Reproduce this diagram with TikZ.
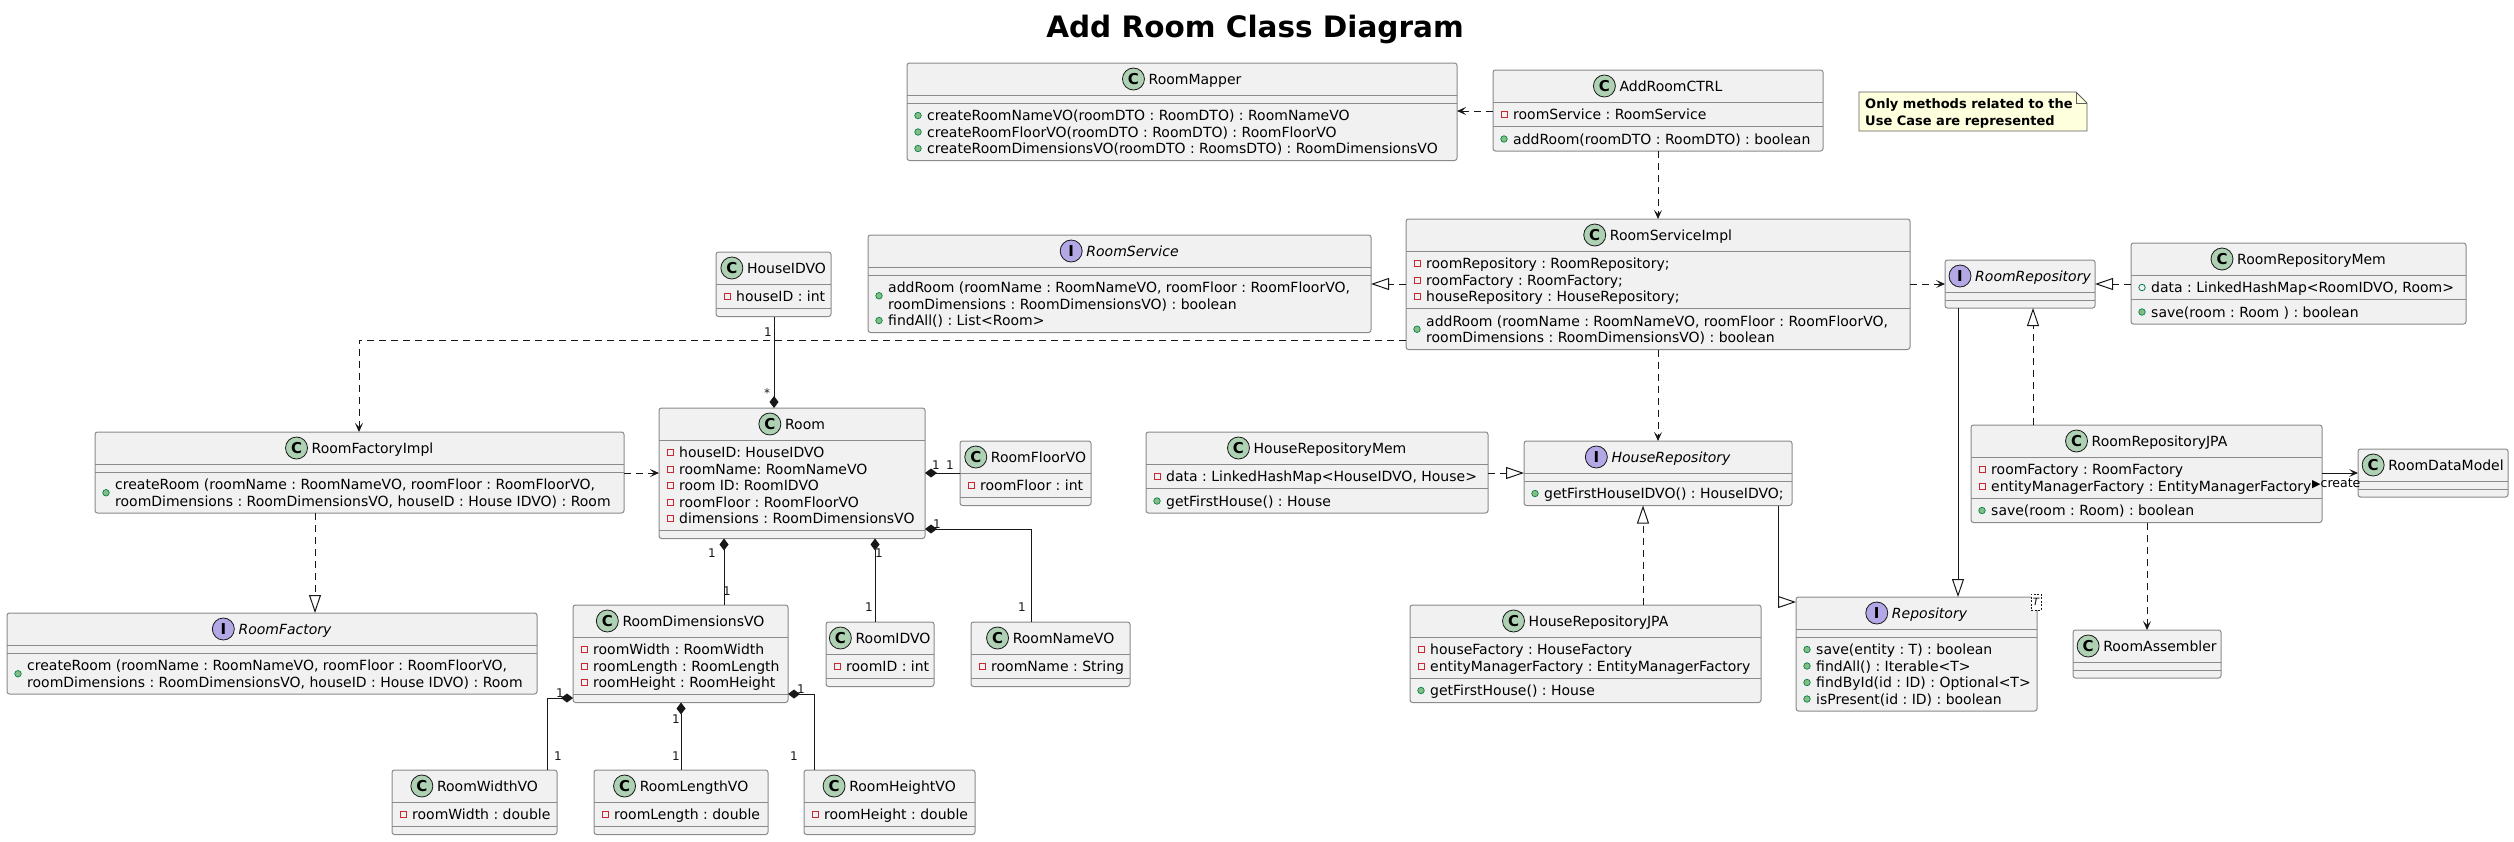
\documentclass[tikz,border=0pt]{standalone}
\usepackage{fontspec}
\setmainfont{DejaVu Sans}
\usetikzlibrary{arrows.meta,calc}
\frenchspacing
\definecolor{boxfill}{HTML}{F1F1F1}
\definecolor{boxline}{HTML}{8A8A8A}
\definecolor{ink}{HTML}{181818}
\definecolor{cfill}{HTML}{ADD1B2}
\definecolor{ifill}{HTML}{B4A7E5}
\definecolor{privred}{HTML}{C82930}
\definecolor{pubgreen}{HTML}{038048}
\definecolor{pubfill}{HTML}{84BE84}
\definecolor{notefill}{HTML}{FEFFDD}
\tikzset{
  umlbox/.style={draw=boxline, fill=boxfill, line width=1pt, rounded corners=2.5pt, inner sep=0pt, outer sep=0pt, anchor=north west},
  sepline/.style={draw=boxline, line width=1pt},
  kCcirc/.style={circle, draw=ink, line width=0.8pt, fill=cfill, minimum size=22pt, inner sep=0pt, font=\fontsize{15}{15}\selectfont\bfseries},
  kIcirc/.style={circle, draw=ink, line width=0.8pt, fill=ifill, minimum size=22pt, inner sep=0pt, font=\fontsize{15}{15}\selectfont\bfseries},
  kCname/.style={font=\fontsize{14}{16.5}\selectfont, inner sep=0pt, anchor=base},
  kIname/.style={font=\fontsize{14}{16.5}\selectfont\itshape, inner sep=0pt, anchor=base},
  memtext/.style={font=\fontsize{14}{16.5}\selectfont, inner sep=0pt, anchor=base west},
  icpriv/.style={rectangle, draw=privred, line width=0.8pt, minimum size=6pt, inner sep=0pt},
  icpub/.style={circle, draw=pubgreen, fill=pubfill, line width=0.7pt, minimum size=6.5pt, inner sep=0pt},
  icpubf/.style={circle, draw=pubgreen, line width=0.8pt, minimum size=6.5pt, inner sep=0pt},
  conn/.style={draw=ink, line width=1pt},
  dep/.style={conn, dash pattern=on 7pt off 5pt, -{Stealth[length=9pt,width=8pt,inset=4pt]}},
  assoc/.style={conn, -{Stealth[length=9pt,width=8pt,inset=4pt]}},
  real/.style={conn, dash pattern=on 7pt off 5pt, -{Triangle[open,length=18pt,width=12pt]}},
  gen/.style={conn, -{Triangle[open,length=18pt,width=12pt]}},
  comp/.style={conn, {Diamond[length=12pt,width=9pt]}-},
  mult/.style={font=\fontsize{12}{12}\selectfont, inner sep=0pt, text=ink},
}
\newcommand\umlclass[8]{%
  \pgfmathsetmacro\uA{#4+32}%
  \pgfmathsetmacro\uB{\uA+8+16.5*#5}%
  \pgfmathsetmacro\uBot{\uB+8+16.5*#6}%
  \pgfmathsetmacro\uW{#3-#2}%
  \pgfmathsetmacro\uH{\uBot-#4}%
  \pgfmathsetmacro\uCx{(#2+#3)/2+13}%
  \pgfmathsetmacro\uHy{#4+16}%
  \pgfmathsetmacro\uBy{#4+21}%
  \node[umlbox, minimum width=\uW pt, minimum height=\uH pt] (#1) at (#2,#4) {};
  \draw[sepline] (#2,\uA) -- (#3,\uA) (#2,\uB) -- (#3,\uB);
  \coordinate (#1-a) at (#2,\uA);
  \coordinate (#1-m) at (#2,\uB);
  \node[k#7name] (#1-t) at (\uCx,\uBy) {#8};
  \node[k#7circ, xshift=-15pt] (#1-c) at (#1-t.west |- #2,\uHy) {#7};
}
\newcommand\mem[5]{%
  \node[ic#4] at ($(#1-#2)+(11,{12.5+16.5*#3})$) {};
  \node[memtext] at ($(#1-#2)+(20,{17.5+16.5*#3})$) {#5};
}
\newcommand\memII[6]{%
  \node[ic#4] at ($(#1-#2)+(11,{20.75+16.5*#3})$) {};
  \node[memtext] at ($(#1-#2)+(20,{17.5+16.5*#3})$) {#5};
  \node[memtext] at ($(#1-#2)+(20,{34+16.5*#3})$) {#6};
}
\begin{document}
\begin{tikzpicture}[x=1pt,y=-1pt]
\useasboundingbox (0,0) rectangle (2514,841);
\node[font=\fontsize{29.5}{30}\selectfont\bfseries, anchor=base, inner sep=0pt] (title) at (1255,37) {Add Room Class Diagram};

% note
\draw[draw=ink!70, fill=notefill, line width=0.8pt] (1859,92) -- (2076,92) -- (2087,103) -- (2087,131) -- (1859,131) -- cycle;
\draw[draw=ink!70, line width=0.8pt] (2076,92) -- (2076,103) -- (2087,103);
\node[font=\fontsize{13}{16.5}\selectfont\bfseries, anchor=base west, inner sep=0pt] (note1) at (1865,108) {Only methods related to the};
\node[font=\fontsize{13}{16.5}\selectfont\bfseries, anchor=base west, inner sep=0pt] (note2) at (1865,125) {Use Case are represented};

% classes
\umlclass{mapper}{907}{1457}{63}{0}{3}{C}{RoomMapper}
\mem{mapper}{m}{0}{pub}{createRoomNameVO(roomDTO : RoomDTO) : RoomNameVO}
\mem{mapper}{m}{1}{pub}{createRoomFloorVO(roomDTO : RoomDTO) : RoomFloorVO}
\mem{mapper}{m}{2}{pub}{createRoomDimensionsVO(roomDTO : RoomsDTO) : RoomDimensionsVO}

\umlclass{ctrl}{1493}{1823}{70}{1}{1}{C}{AddRoomCTRL}
\mem{ctrl}{a}{0}{priv}{roomService : RoomService}
\mem{ctrl}{m}{0}{pub}{addRoom(roomDTO : RoomDTO) : boolean}

\umlclass{rsi}{1406}{1910}{219}{3}{2}{C}{RoomServiceImpl}
\mem{rsi}{a}{0}{priv}{roomRepository : RoomRepository;}
\mem{rsi}{a}{1}{priv}{roomFactory : RoomFactory;}
\mem{rsi}{a}{2}{priv}{houseRepository : HouseRepository;}
\memII{rsi}{m}{0}{pub}{addRoom (roomName : RoomNameVO, roomFloor : RoomFloorVO,}{roomDimensions : RoomDimensionsVO) : boolean}

\umlclass{rsvc}{868}{1371}{235}{0}{3}{I}{RoomService}
\memII{rsvc}{m}{0}{pub}{addRoom (roomName : RoomNameVO, roomFloor : RoomFloorVO,}{roomDimensions : RoomDimensionsVO) : boolean}
\mem{rsvc}{m}{2}{pub}{findAll() : List<Room>}

\umlclass{rrepo}{1945}{2095}{260}{0}{0}{I}{RoomRepository}

\umlclass{rrmem}{2131}{2466}{243}{1}{1}{C}{RoomRepositoryMem}
\mem{rrmem}{a}{0}{pubf}{data : LinkedHashMap<RoomIDVO, Room>}
\mem{rrmem}{m}{0}{pub}{save(room : Room ) : boolean}

\umlclass{hidvo}{716}{831}{252}{1}{0}{C}{HouseIDVO}
\mem{hidvo}{a}{0}{priv}{houseID : int}

\umlclass{rfimpl}{95}{624}{432}{0}{2}{C}{RoomFactoryImpl}
\memII{rfimpl}{m}{0}{pub}{createRoom (roomName : RoomNameVO, roomFloor : RoomFloorVO,}{roomDimensions : RoomDimensionsVO, houseID : House IDVO) : Room}

\umlclass{room}{659}{925}{408}{5}{0}{C}{Room}
\mem{room}{a}{0}{priv}{houseID: HouseIDVO}
\mem{room}{a}{1}{priv}{roomName: RoomNameVO}
\mem{room}{a}{2}{priv}{room ID: RoomIDVO}
\mem{room}{a}{3}{priv}{roomFloor : RoomFloorVO}
\mem{room}{a}{4}{priv}{dimensions : RoomDimensionsVO}

\umlclass{rfloor}{960}{1091}{441}{1}{0}{C}{RoomFloorVO}
\mem{rfloor}{a}{0}{priv}{roomFloor : int}

\umlclass{hrmem}{1146}{1488}{432}{1}{1}{C}{HouseRepositoryMem}
\mem{hrmem}{a}{0}{priv}{data : LinkedHashMap<HouseIDVO, House>}
\mem{hrmem}{m}{0}{pub}{getFirstHouse() : House}

\umlclass{hrepo}{1524}{1792}{441}{0}{1}{I}{HouseRepository}
\mem{hrepo}{m}{0}{pub}{getFirstHouseIDVO() : HouseIDVO;}

\umlclass{rrjpa}{1971}{2322}{425}{2}{1}{C}{RoomRepositoryJPA}
\mem{rrjpa}{a}{0}{priv}{roomFactory : RoomFactory}
\mem{rrjpa}{a}{1}{priv}{entityManagerFactory : EntityManagerFactory}
\mem{rrjpa}{m}{0}{pub}{save(room : Room) : boolean}

\umlclass{rdm}{2358}{2508}{449}{0}{0}{C}{RoomDataModel}

\umlclass{rfact}{7}{537}{613}{0}{2}{I}{RoomFactory}
\memII{rfact}{m}{0}{pub}{createRoom (roomName : RoomNameVO, roomFloor : RoomFloorVO,}{roomDimensions : RoomDimensionsVO, houseID : House IDVO) : Room}

\umlclass{rdim}{573}{788}{605}{3}{0}{C}{RoomDimensionsVO}
\mem{rdim}{a}{0}{priv}{roomWidth : RoomWidth}
\mem{rdim}{a}{1}{priv}{roomLength : RoomLength}
\mem{rdim}{a}{2}{priv}{roomHeight : RoomHeight}

\umlclass{ridvo}{826}{934}{622}{1}{0}{C}{RoomIDVO}
\mem{ridvo}{a}{0}{priv}{roomID : int}

\umlclass{rname}{971}{1130}{622}{1}{0}{C}{RoomNameVO}
\mem{rname}{a}{0}{priv}{roomName : String}

\umlclass{hrjpa}{1410}{1761}{605}{2}{1}{C}{HouseRepositoryJPA}
\mem{hrjpa}{a}{0}{priv}{houseFactory : HouseFactory}
\mem{hrjpa}{a}{1}{priv}{entityManagerFactory : EntityManagerFactory}
\mem{hrjpa}{m}{0}{pub}{getFirstHouse() : House}

\umlclass{repo}{1796}{2037}{597}{0}{4}{I}{Repository}
\mem{repo}{m}{0}{pub}{save(entity : T) : boolean}
\mem{repo}{m}{1}{pub}{findAll() : Iterable<T>}
\mem{repo}{m}{2}{pub}{findById(id : ID) : Optional<T>}
\mem{repo}{m}{3}{pub}{isPresent(id : ID) : boolean}
\node[draw=ink, dash pattern=on 2pt off 1.5pt, fill=white, line width=0.7pt, font=\fontsize{10}{10}\selectfont\itshape, minimum width=10pt, minimum height=16pt, inner sep=0pt] (tmpl) at (2036,602) {T};

\umlclass{rasm}{2073}{2221}{630}{0}{0}{C}{RoomAssembler}

\umlclass{rwidth}{392}{557}{770}{1}{0}{C}{RoomWidthVO}
\mem{rwidth}{a}{0}{priv}{roomWidth : double}
\umlclass{rlength}{594}{768}{770}{1}{0}{C}{RoomLengthVO}
\mem{rlength}{a}{0}{priv}{roomLength : double}
\umlclass{rheight}{804}{975}{770}{1}{0}{C}{RoomHeightVO}
\mem{rheight}{a}{0}{priv}{roomHeight : double}

% connectors
\draw[dep] (ctrl.west |- 0,111) -- (mapper.east |- 0,111);
\draw[dep] (ctrl.south -| 1658,0) -- (rsi.north -| 1658,0);
\draw[real] (rsi.west |- 0,284) -- (rsvc.east |- 0,284);
\draw[dep] (rsi.east |- 0,284) -- (rrepo.west |- 0,284);
\draw[dep] (rsi.west |- 0,340) -| (rfimpl.north -| 359,0);
\draw[dep] (rsi.south -| 1658,0) -- (hrepo.north -| 1658,0);
\draw[comp] (room.north -| 774,0) -- (hidvo.south -| 774,0);
\node[mult] at (768,332) {1};
\node[mult] at (767,393) {*};
\draw[dep] (rfimpl.east |- 0,473) -- (room.west |- 0,473);
\draw[real] (rfimpl.south -| 315,0) -- (rfact.north -| 315,0);
\draw[comp] (room.east |- 0,473) -- (rfloor.west |- 0,473);
\node[mult] at (936,465) {1};
\node[mult] at (950,465) {1};
\draw[comp] (room.south -| 724,0) -- (rdim.north -| 724,0);
\node[mult] at (712,553) {1};
\node[mult] at (727,591) {1};
\draw[comp] (room.south -| 875,0) -- (ridvo.north -| 875,0);
\node[mult] at (879,553) {1};
\node[mult] at (869,607) {1};
\draw[comp] (room.east |- 0,529) -| (rname.north -| 1031,0);
\node[mult] at (937,524) {1};
\node[mult] at (1022,607) {1};
\draw[comp] (rdim.west |- 0,698) -| (rwidth.north -| 547,0);
\node[mult] at (560,693) {1};
\node[mult] at (558,756) {1};
\draw[comp] (rdim.south -| 681,0) -- (rlength.north -| 681,0);
\node[mult] at (676,719) {1};
\node[mult] at (676,756) {1};
\draw[comp] (rdim.east |- 0,694) -| (rheight.north -| 814,0);
\node[mult] at (801,689) {1};
\node[mult] at (794,756) {1};
\draw[real] (hrmem.east |- 0,473) -- (hrepo.west |- 0,473);
\draw[real] (hrjpa.north -| 1643,0) -- (hrepo.south -| 1643,0);
\draw[gen] (hrepo.south -| 1778,0) |- (repo.west |- 0,602);
\draw[gen] (rrepo.south -| 1958,0) -- (repo.north -| 1958,0);
\draw[real] (rrmem.west |- 0,284) -- (rrepo.east |- 0,284);
\draw[real] (rrjpa.north -| 2033,0) -- (rrepo.south -| 2033,0);
\draw[assoc] (rrjpa.east |- 0,473) -- (rdm.west |- 0,473);
\node[font=\fontsize{12.5}{12.5}\selectfont, anchor=base west, inner sep=0pt] (createlbl) at (2312,487) {{\fontsize{11}{11}\selectfont ▶}create};
\draw[dep] (rrjpa.south -| 2147,0) -- (rasm.north -| 2147,0);
\end{tikzpicture}
\end{document}
